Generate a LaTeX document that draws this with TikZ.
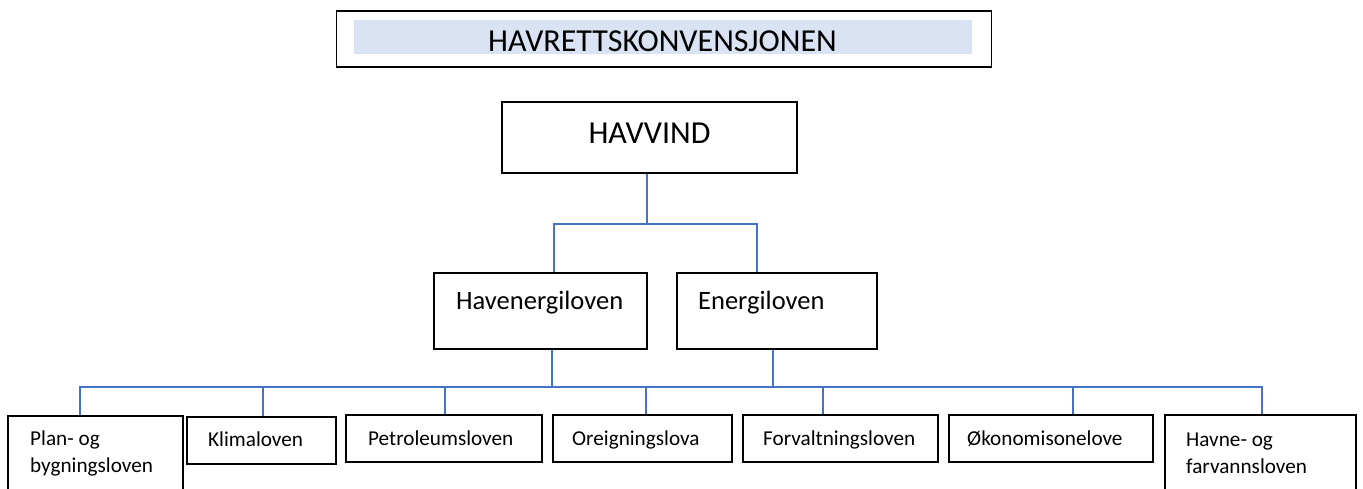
\documentclass[tikz,border=0pt]{standalone}
\usepackage{fontspec}
\setmainfont{Carlito}
\definecolor{connblue}{HTML}{4472C4}
\definecolor{lightfill}{HTML}{DAE3F3}
\begin{document}
\begin{tikzpicture}[x=1pt,y=-1pt,
  box/.style={draw=black, line width=1.4pt, inner sep=0pt, rectangle},
  txt/.style={inner sep=0pt, anchor=base west, text=black},
  conn/.style={draw=connblue, line width=1.3pt}]
\useasboundingbox (0,0) rectangle (1363,488);
% top
\node[box, minimum width=655, minimum height=56] (hk) at (664,39) {};
\node[fill=lightfill, inner sep=0pt, minimum width=618, minimum height=34] (hkfill) at (663,37) {};
\node[txt, anchor=base, font=\fontsize{32}{36}\selectfont] (hkt) at (662.5,51) {HAVRETTSKONVENSJONEN};
% havvind
\node[box, minimum width=295, minimum height=71] (hv) at (649.5,137.5) {};
\node[txt, anchor=base, font=\fontsize{32}{36}\selectfont] (hvt) at (649.5,143) {HAVVIND};
% middle
\node[box, minimum width=213, minimum height=76] (he) at (540.5,311) {};
\node[txt, font=\fontsize{26.5}{30}\selectfont] (het) at (456,309) {Havenergiloven};
\node[box, minimum width=200, minimum height=76] (en) at (777,311) {};
\node[txt, font=\fontsize{26.5}{30}\selectfont] (ent) at (698,309) {Energiloven};
% bottom boxes
\node[box, minimum width=175, minimum height=82] (pb) at (95.5,457) {};
\node[box, minimum width=149, minimum height=47] (kl) at (261.5,440.5) {};
\node[box, minimum width=196, minimum height=47] (pe) at (444,438.5) {};
\node[box, minimum width=179, minimum height=47] (or) at (642.5,438.5) {};
\node[box, minimum width=195, minimum height=47] (fo) at (840.5,438.5) {};
\node[box, minimum width=204, minimum height=47] (ok) at (1051,438.5) {};
\node[box, minimum width=191, minimum height=82] (hf) at (1260.5,456) {};
\begin{scope}[font=\fontsize{21.2}{24}\selectfont]
\node[txt] (pbt1) at (30,445) {Plan- og};
\node[txt] (pbt2) at (30,472) {bygningsloven};
\node[txt] (klt) at (208,446) {Klimaloven};
\node[txt] (pet) at (368,445) {Petroleumsloven};
\node[txt] (ort) at (572,445) {Oreigningslova};
\node[txt] (fot) at (763,445) {Forvaltningsloven};
\node[txt] (okt) at (967,445) {Økonomisonelove};
\node[txt] (hft1) at (1186,446) {Havne- og};
\node[txt] (hft2) at (1186,473) {farvannsloven};
\end{scope}
% connectors top
\coordinate (j1) at (647,224);
\draw[conn] ([xshift=-2.5pt]hv.south) -- (j1);
\draw[conn] ([xshift=13.5pt]he.north) |- (j1) -| ([xshift=-20pt]en.north);
% bus
\coordinate (busL) at (80,387);
\coordinate (busR) at (1262,387);
\draw[conn] ([xshift=11.5pt]he.south) -- ([xshift=11.5pt]he.south |- busL);
\draw[conn] ([xshift=-4pt]en.south) -- ([xshift=-4pt]en.south |- busL);
\draw[conn] ([xshift=-15.5pt]pb.north) |- (busL) -- (busR) -- ([xshift=1.5pt]hf.north);
\draw[conn] ([xshift=1.5pt]kl.north) -- ([xshift=1.5pt]kl.north |- busL);
\draw[conn] ([xshift=1pt]pe.north) -- ([xshift=1pt]pe.north |- busL);
\draw[conn] ([xshift=3.5pt]or.north) -- ([xshift=3.5pt]or.north |- busL);
\draw[conn] ([xshift=-17.5pt]fo.north) -- ([xshift=-17.5pt]fo.north |- busL);
\draw[conn] ([xshift=22pt]ok.north) -- ([xshift=22pt]ok.north |- busL);
\end{tikzpicture}
\end{document}
